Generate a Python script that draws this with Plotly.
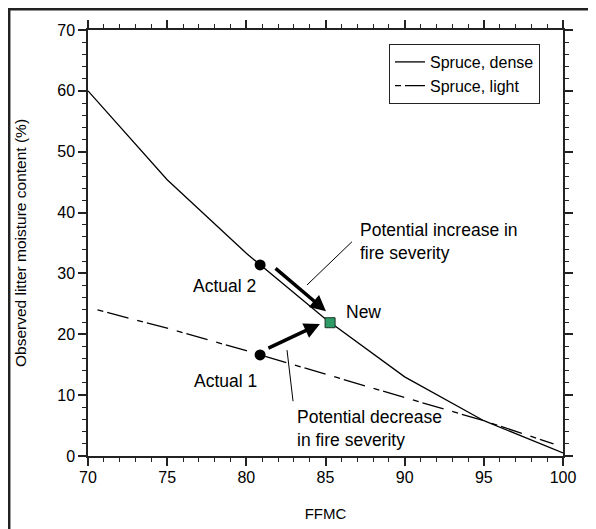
import plotly.graph_objects as go

# ---- data ----
ffmc_dense = [70, 75, 80, 85, 90, 95, 100]
moist_dense = [60, 45.4, 33.3, 22.5, 13.0, 5.8, 0.5]

ffmc_light = [70.6, 75, 80, 85, 90, 95, 99.4]
moist_light = [24.0, 21.0, 17.3, 13.4, 9.6, 5.8, 2.0]

actual_ffmc = [80.87, 80.87]
actual_moist = [31.4, 16.6]

new_ffmc = [85.29]
new_moist = [21.9]

series_names = ["Spruce, dense", "Spruce, light"]

FONT = "Arial, Liberation Sans, Helvetica, sans-serif"

fig = go.Figure()
fig.add_trace(go.Scatter(x=ffmc_dense, y=moist_dense, mode="lines", name=series_names[0],
                         line=dict(color="black", width=1.3)))
fig.add_trace(go.Scatter(x=ffmc_light, y=moist_light, mode="lines", name=series_names[1],
                         line=dict(color="black", width=1.3, dash="6px,4px,22px,9px")))
fig.add_trace(go.Scatter(x=actual_ffmc, y=actual_moist, mode="markers", showlegend=False,
                         marker=dict(color="black", size=11, symbol="circle")))
fig.add_trace(go.Scatter(x=new_ffmc, y=new_moist, mode="markers", showlegend=False,
                         marker=dict(color="#2e9a66", size=10, symbol="square",
                                     line=dict(color="#1a3326", width=1))))

# arrows (tail -> tip)
arrows = [((81.75, 31.05), (85.03, 23.8)), ((81.3, 17.6), (84.65, 21.7))]
for (tx, ty), (hx, hy) in arrows:
    fig.add_annotation(x=hx, y=hy, ax=tx, ay=ty, xref="x", yref="y", axref="x", ayref="y",
                       text="", showarrow=True, arrowhead=2, arrowsize=0.9, arrowwidth=3.5,
                       arrowcolor="black", standoff=0, startstandoff=0)

# leader lines
leaders = [((86.67, 35.2), (83.83, 28.1)), ((82.57, 17.4), (82.95, 9.0))]
for (x0, y0), (x1, y1) in leaders:
    fig.add_shape(type="line", x0=x0, y0=y0, x1=x1, y1=y1, xref="x", yref="y",
                  line=dict(color="black", width=1))

labels = [
    (87.05, 35.2, "Potential increase in<br>fire severity"),
    (83.08, 4.6, "Potential decrease<br>in fire severity"),
    (76.5, 27.9, "Actual 2"),
    (76.55, 12.3, "Actual 1"),
    (86.15, 23.66, "New"),
]
for x, y, t in labels:
    fig.add_annotation(x=x, y=y, xref="x", yref="y", text=t, showarrow=False,
                       xanchor="left", yanchor="middle", align="left",
                       font=dict(family=FONT, size=17.5, color="black"))

W, H = 588, 521
L, R, T, B = 80, 33, 22, 73
pw, ph = W - L - R, H - T - B
fx = lambda px: (px - L) / pw
fy = lambda py: (H - B - py) / ph

# outer frame (top and left edges visible)
fig.add_shape(type="line", xref="paper", yref="paper", x0=fx(0), x1=fx(W + 5), y0=fy(1.2), y1=fy(1.2),
              line=dict(color="#222", width=2.5))
fig.add_shape(type="line", xref="paper", yref="paper", x0=fx(1.2), x1=fx(1.2), y0=fy(0), y1=fy(H + 5),
              line=dict(color="#222", width=2.5))

axis_common = dict(showline=True, linecolor="#222", linewidth=1.5, mirror="ticks",
                   ticks="outside", ticklen=8, tickwidth=1.5, tickcolor="#222",
                   showgrid=False, zeroline=False,
                   tickfont=dict(family=FONT, size=16, color="black"))

fig.update_xaxes(range=[70, 100], dtick=5, tick0=70,
                 minor=dict(dtick=1, ticks="outside", ticklen=4, tickwidth=1.2, tickcolor="#222"),
                 title=dict(text="FFMC", font=dict(family=FONT, size=15, color="black"), standoff=24),
                 ticklabelstandoff=-2,
                 **axis_common)
fig.update_yaxes(range=[0, 70], dtick=10, tick0=0,
                 minor=dict(dtick=2, ticks="outside", ticklen=4, tickwidth=1.2, tickcolor="#222"),
                 title=dict(text="Observed litter moisture content (%)",
                            font=dict(family=FONT, size=15.5, color="black"), standoff=27),
                 **axis_common)

fig.update_layout(
    width=W, height=H,
    margin=dict(l=L, r=R, t=T, b=B, autoexpand=False),
    paper_bgcolor="white", plot_bgcolor="white",
    font=dict(family=FONT, color="black"),
    legend=dict(x=fx(540 - 8), y=fy(44 - 8), xanchor="right", yanchor="top",
                bordercolor="#222", borderwidth=1, bgcolor="white",
                font=dict(family=FONT, size=16, color="black"),
                tracegroupgap=0),
)

fig.write_html("out.html")
